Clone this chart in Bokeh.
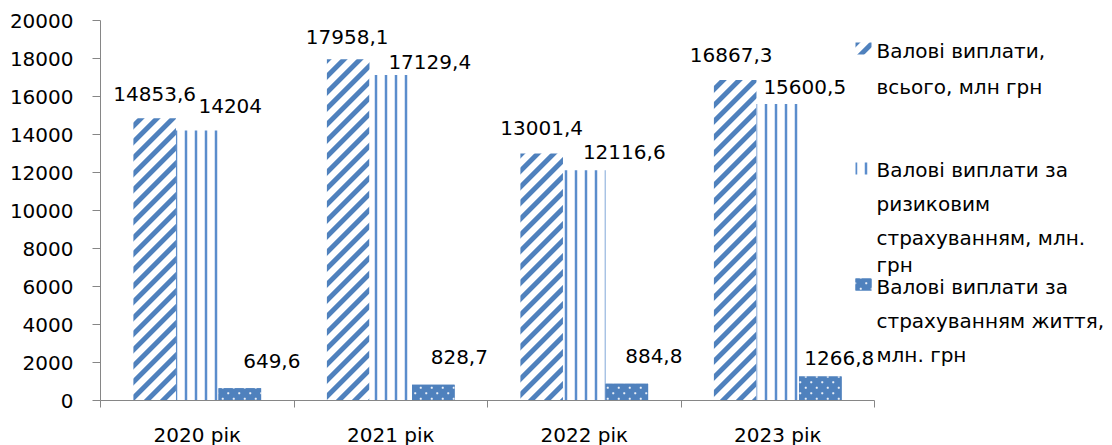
import base64
import struct
import zlib

from bokeh.plotting import figure
from bokeh.models import ColumnDataSource, FixedTicker, Range1d, ImageURLTexture
from bokeh.core.properties import value
from bokeh.embed import file_html
from bokeh.resources import INLINE

# ---- data -------------------------------------------------------------
years = ["2020 рік", "2021 рік", "2022 рік", "2023 рік"]
gross_total = [14853.6, 17958.1, 13001.4, 16867.3]   # Валові виплати, всього
gross_risk = [14204.0, 17129.4, 12116.6, 15600.5]    # за ризиковим страхуванням
gross_life = [649.6, 828.7, 884.8, 1266.8]           # за страхуванням життя
series_names = [
    ["Валові виплати,", "всього, млн грн"],
    ["Валові виплати за", "ризиковим", "страхуванням, млн.", "грн"],
    ["Валові виплати за", "страхуванням життя,", "млн. грн"],
]
y_ticks = [0, 2000, 4000, 6000, 8000, 10000, 12000, 14000, 16000, 18000, 20000]

# ---- styling / layout --------------------------------------------------
FONT = "DejaVu Sans"
FONT_SIZE = "20px"
BLUE = (0x4F, 0x81, 0xBD)
BLUE_HEX = "#4F81BD"
AXIS_GREY = "#868686"


def png_tile(size, coverage, fg, bg, ss=4):
    """Build a small RGBA PNG tile; coverage(x, y) -> True where fg is painted."""
    rows = bytearray()
    for py in range(size):
        rows.append(0)
        for px in range(size):
            hits = sum(coverage(px + (i + 0.5) / ss, py + (j + 0.5) / ss)
                       for i in range(ss) for j in range(ss))
            a = hits / (ss * ss)
            rows.extend(round(fg[k] * a + bg[k] * (1 - a)) for k in range(3))
            rows.append(255)

    def chunk(tag, data):
        return (struct.pack(">I", len(data)) + tag + data
                + struct.pack(">I", zlib.crc32(tag + data) & 0xFFFFFFFF))

    png = (b"\x89PNG\r\n\x1a\n"
           + chunk(b"IHDR", struct.pack(">IIBBBBB", size, size, 8, 6, 0, 0, 0))
           + chunk(b"IDAT", zlib.compress(bytes(rows)))
           + chunk(b"IEND", b""))
    return "data:image/png;base64," + base64.b64encode(png).decode()


# wide upward diagonal: 45-degree "/" stripes, 16 px repeat
STRIPE_P, STRIPE_W = 16, 7.0
stripe_url = png_tile(STRIPE_P, lambda x, y: (x + y) % STRIPE_P < STRIPE_W,
                      BLUE, (255, 255, 255))

# small staggered white dots on blue
DOT_P, DOT_R = 11, 1.1


def dot_cov(x, y):
    for cx, cy in ((DOT_P * 0.25, DOT_P * 0.25), (DOT_P * 0.75, DOT_P * 0.75)):
        if (x - cx) ** 2 + (y - cy) ** 2 <= DOT_R ** 2:
            return True
    return False


dot_url = png_tile(DOT_P, dot_cov, (235, 240, 248), BLUE)

series_values = [gross_total, gross_risk, gross_life]
bar_offsets = [-0.22, 0.0, 0.22]
bar_width = 0.22
bar_styles = [
    dict(fill_color="white", hatch_pattern=value("stripes"),
         hatch_extra={"stripes": ImageURLTexture(url=stripe_url)}),
    dict(fill_color="white", hatch_pattern="vertical_line",
         hatch_color="#5B8DCC", hatch_weight=2.5, hatch_scale=10),
    dict(fill_color=BLUE_HEX, hatch_pattern=value("dots"),
         hatch_extra={"dots": ImageURLTexture(url=dot_url)}),
]
# data-label nudges in pixels (right, up) per series and year
label_dx = [[0, -1, 0, -4], [33, 39, 40, 27], [32, 26, 27, 19]]
label_dy = [[24, 22, 25, 25], [25, 13, 18, 17], [27, 28, 28, 18]]

# legend placement in page pixels
legend_marker_top = [42, 162, 278]
legend_marker_h = 12
legend_baselines = [[50, 86], [169, 203, 237, 264], [286, 320, 354]]
legend_text_x = 876


def fmt(v):
    s = f"{v:.1f}".rstrip("0").rstrip(".")
    return s.replace(".", ",")


p = figure(frame_width=774, frame_height=380,
           min_border_left=100, min_border_right=238,
           min_border_top=20, min_border_bottom=45,
           x_range=Range1d(0, len(years)), y_range=Range1d(0, 20000),
           output_backend="svg", toolbar_location=None,
           outline_line_color=None, background_fill_color="white",
           border_fill_color="white")
p.grid.visible = False

# ---- bars -------------------------------------------------------------
for vals, off, style in zip(series_values, bar_offsets, bar_styles):
    src = ColumnDataSource(dict(x=[i + 0.5 + off for i in range(len(years))],
                                top=vals))
    p.vbar(x="x", top="top", bottom=0, width=bar_width, source=src,
           line_color=None, **style)

# ---- value labels -------------------------------------------------------
for vals, off, dxs, dys in zip(series_values, bar_offsets, label_dx, label_dy):
    src = ColumnDataSource(dict(
        x=[i + 0.5 + off for i in range(len(years))],
        y=vals,
        text=[fmt(v) for v in vals],
        dx=dxs,
        dy=[-d for d in dys],
    ))
    p.text(x="x", y="y", text="text", x_offset="dx", y_offset="dy", source=src,
           text_font=value(FONT), text_font_size=FONT_SIZE,
           text_align="center", text_baseline="middle", text_color="black")

# ---- axes -------------------------------------------------------------
ya = p.yaxis[0]
ya.ticker = FixedTicker(ticks=y_ticks)
ya.major_tick_out = 8
ya.major_tick_in = 0
ya.minor_tick_out = 0
ya.minor_tick_in = 0
ya.axis_line_color = AXIS_GREY
ya.major_tick_line_color = AXIS_GREY
ya.major_label_text_font = FONT
ya.major_label_text_font_size = FONT_SIZE
ya.major_label_text_color = "black"
ya.major_label_standoff = 19

xa = p.xaxis[0]
xa.ticker = FixedTicker(ticks=[i + 0.5 for i in range(len(years))],
                        minor_ticks=list(range(len(years) + 1)))
xa.major_label_overrides = {i + 0.5: y for i, y in enumerate(years)}
xa.major_tick_out = 0
xa.major_tick_in = 0
xa.minor_tick_out = 7
xa.minor_tick_in = 0
xa.axis_line_color = AXIS_GREY
xa.minor_tick_line_color = AXIS_GREY
xa.major_label_text_font = FONT
xa.major_label_text_font_size = FONT_SIZE
xa.major_label_text_color = "black"
xa.major_label_standoff = 15

# ---- legend (pixel coordinate ranges beside the frame) ------------------
p.extra_x_ranges = {"px": Range1d(100, 874)}
p.extra_y_ranges = {"px": Range1d(400, 20)}

for top, style in zip(legend_marker_top, bar_styles):
    p.quad(left=[855], right=[871], top=[top], bottom=[top + legend_marker_h],
           line_color=None, x_range_name="px", y_range_name="px",
           level="overlay", **style)

for lines, bases in zip(series_names, legend_baselines):
    src = ColumnDataSource(dict(x=[legend_text_x] * len(lines), y=bases, text=lines))
    p.text(x="x", y="y", text="text", source=src,
           text_font=value(FONT), text_font_size=FONT_SIZE,
           text_align="left", text_baseline="alphabetic", text_color="black",
           x_range_name="px", y_range_name="px", level="overlay")

open("out.html", "w").write(file_html(p, INLINE))
